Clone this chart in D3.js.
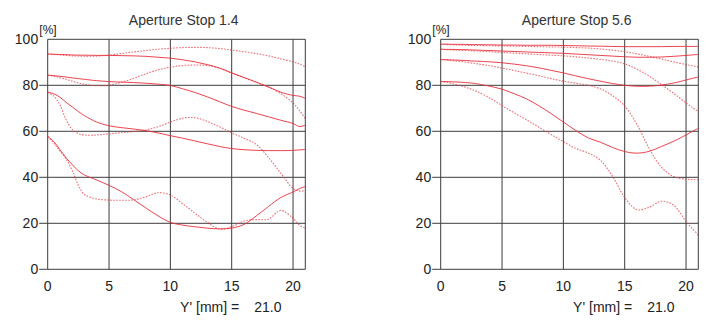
<!DOCTYPE html>
<html>
<head>
<meta charset="utf-8">
<script src="https://cdn.jsdelivr.net/npm/d3@7"></script>
<style>
  html, body { margin: 0; padding: 0; background: #ffffff; }
  svg { display: block; }
  text { font-family: "Liberation Sans", Arial, sans-serif; fill: #222; }
</style>
</head>
<body>
<svg id="chart" width="720" height="336"></svg>
<script>
// ---------- data ----------
const imageHeights = [0,0.5,1,1.5,2,2.5,3,4,5,6,7,8,9,10,11,12,13,14,15,16,17,18,19,20,20.5,21];

const xTicks = [0, 5, 10, 15, 20];
const yTicks = [0, 20, 40, 60, 80, 100];
const titles = ["Aperture Stop 1.4", "Aperture Stop 5.6"];
const imageHeightLabel = "Y' [mm] =";
const imageHeightValue = "21.0";
const unitLabel = "[%]";

// Aperture 1.4 — solid (sagittal) and dashed (tangential), 4 frequencies each
const f14_solid1 = [93.6,93.5,93.4,93.3,93.2,93.1,93.1,93.0,93.0,92.9,92.8,92.6,92.2,91.8,91.1,90.2,89.0,87.5,85.4,83.4,81.4,79.3,77.0,75.6,75.3,74.3];
const f14_dash1  = [93.6,93.4,93.2,93.0,92.8,92.7,92.6,92.7,93.1,93.8,94.5,95.1,95.7,96.1,96.4,96.5,96.4,96.0,95.3,94.6,93.8,92.8,91.5,90.2,89.3,88.0];
const f14_solid2 = [84.4,84.2,83.9,83.6,83.2,82.9,82.6,82.0,81.6,81.4,81.2,80.9,80.5,79.9,78.5,76.9,75.0,72.9,70.8,69.2,67.8,66.3,64.8,63.4,62.1,62.6];
const f14_dash2  = [84.4,84.0,83.3,82.6,81.8,81.0,80.4,79.8,80.0,81.3,83.0,85.0,86.7,87.9,88.6,88.8,88.6,87.5,85.3,83.3,81.3,79.2,76.4,72.3,69.2,65.6];
const f14_solid3 = [77.0,76.3,74.8,72.6,70.6,68.6,66.8,64.0,62.4,61.6,61.0,60.3,59.3,58.1,57.0,55.8,54.6,53.4,52.5,52.0,51.7,51.6,51.6,51.7,51.9,52.1];
const f14_dash3  = [77.0,75.3,71.5,65.0,60.8,59.0,58.4,58.4,58.9,59.4,59.9,60.6,62.0,64.0,65.7,65.9,64.3,62.0,59.3,57.0,54.3,48.6,41.8,35.2,34.0,34.3];
const f14_solid4 = [57.8,55.5,52.0,48.5,45.5,42.8,41.0,38.8,36.5,33.8,30.3,26.7,23.2,20.4,19.2,18.5,17.9,17.6,17.9,19.5,23.2,27.3,31.2,33.6,35.0,36.0];
const f14_dash4  = [57.8,54.8,51.5,48.0,43.0,36.5,32.5,30.6,30.1,30.0,30.2,31.5,33.3,32.3,28.5,24.4,20.5,17.5,18.5,21.0,21.6,21.8,25.6,22.2,19.3,17.8];

// Aperture 5.6
const f56_solid1 = [97.9,97.9,97.8,97.8,97.8,97.7,97.7,97.6,97.5,97.5,97.4,97.4,97.4,97.3,97.2,97.1,97.0,96.9,96.8,96.8,96.8,96.8,96.9,96.9,96.9,96.9];
const f56_dash1  = [97.8,97.7,97.6,97.5,97.4,97.3,97.3,97.2,97.1,97.0,96.9,96.8,96.7,96.6,96.4,96.2,95.8,95.3,94.6,93.7,92.6,91.4,90.2,89.0,88.5,88.0];
const f56_solid2 = [95.7,95.6,95.6,95.5,95.5,95.4,95.3,95.1,94.9,94.7,94.5,94.3,94.1,93.9,93.6,93.3,93.0,92.7,92.4,92.2,92.2,92.3,92.6,93.0,93.2,93.4];
const f56_dash2  = [95.7,95.5,95.4,95.3,95.1,95.0,94.9,94.6,94.3,94.0,93.7,93.4,93.1,92.8,92.4,91.9,91.3,90.6,89.3,87.0,84.0,80.3,76.5,72.3,70.4,68.6];
const f56_solid3 = [91.2,91.1,91.0,90.9,90.8,90.6,90.5,90.2,89.8,89.2,88.5,87.6,86.5,85.4,84.1,82.9,81.8,80.8,80.0,79.6,79.6,80.1,81.0,82.3,83.0,83.6];
const f56_dash3  = [91.2,91.0,90.7,90.4,90.1,89.7,89.3,88.5,87.5,86.4,85.3,84.2,82.9,81.8,80.9,80.0,78.5,75.5,71.0,63.0,52.5,44.3,40.3,39.2,39.0,38.9];
const f56_solid4 = [81.6,81.6,81.5,81.4,81.2,81.0,80.6,79.6,78.3,76.3,74.1,71.1,67.7,64.0,60.4,57.2,55.3,53.0,51.2,50.5,51.3,53.4,55.7,58.4,59.9,61.3];
const f56_dash4  = [81.6,81.3,80.7,80.0,79.2,78.3,77.2,74.5,71.2,68.0,65.0,61.8,58.6,55.5,52.6,50.6,47.5,40.5,31.2,25.9,27.0,29.6,27.8,20.8,17.8,14.9];

const panels = [
  { title: titles[0], left: 47.7,
    solid: [f14_solid1, f14_solid2, f14_solid3, f14_solid4],
    dash:  [f14_dash1, f14_dash2, f14_dash3, f14_dash4] },
  { title: titles[1], left: 440.7,
    solid: [f56_solid1, f56_solid2, f56_solid3, f56_solid4],
    dash:  [f56_dash1, f56_dash2, f56_dash3, f56_dash4] }
];

// ---------- drawing ----------
const svg = d3.select("#chart");
const plotW = 257.6, plotTop = 39.3, plotBottom = 269.3;
const gridColor = "#3c3c3c";
const lineColor = "#e8303c";

panels.forEach(p => {
  const x = d3.scaleLinear().domain([0, 21]).range([p.left, p.left + plotW]);
  const y = d3.scaleLinear().domain([0, 100]).range([plotBottom, plotTop]);
  const g = svg.append("g");

  // horizontal gridlines
  g.selectAll("line.h").data(yTicks).join("line").attr("class", "h")
    .attr("x1", x(0)).attr("x2", x(21))
    .attr("y1", d => y(d)).attr("y2", d => y(d))
    .attr("stroke", gridColor).attr("stroke-width", 1);
  // left ticks
  g.selectAll("line.t").data(yTicks.filter(d => d < 100)).join("line").attr("class", "t")
    .attr("x1", x(0) - 8.5).attr("x2", x(0))
    .attr("y1", d => y(d)).attr("y2", d => y(d))
    .attr("stroke", gridColor).attr("stroke-width", 1);
  // vertical gridlines + frame
  g.selectAll("line.v").data(xTicks.concat([21])).join("line").attr("class", "v")
    .attr("x1", d => x(d)).attr("x2", d => x(d))
    .attr("y1", y(0)).attr("y2", y(100))
    .attr("stroke", gridColor).attr("stroke-width", 1);

  // y labels
  g.selectAll("text.yl").data(yTicks).join("text").attr("class", "yl")
    .attr("x", x(0) - 9.5).attr("y", d => y(d) + 5)
    .attr("text-anchor", "end").attr("font-size", 14)
    .text(d => d);
  // x labels
  g.selectAll("text.xl").data(xTicks).join("text").attr("class", "xl")
    .attr("x", d => x(d)).attr("y", 290.5)
    .attr("text-anchor", "middle").attr("font-size", 14)
    .text(d => d);

  g.append("text").attr("x", x(0) - 8.4).attr("y", 33.5)
    .attr("font-size", 12).text(unitLabel);
  g.append("text").attr("x", p.left + 136).attr("y", 25)
    .attr("text-anchor", "middle").attr("font-size", 14).style("fill", "#333")
    .text(p.title);
  g.append("text").attr("x", p.left + 132.4).attr("y", 311.5)
    .attr("font-size", 14).text(imageHeightLabel);
  g.append("text").attr("x", p.left + 206.6).attr("y", 311.5)
    .attr("font-size", 14).text(imageHeightValue);

  const line = d3.line()
    .x((d, i) => x(imageHeights[i]))
    .y(d => y(d))
    .curve(d3.curveCatmullRom.alpha(0.5));

  const curves = g.append("g");
  p.dash.forEach(s => {
    curves.append("path").attr("d", line(s))
      .attr("fill", "none").attr("stroke", lineColor)
      .attr("stroke-width", 1.1).attr("stroke-opacity", 0.7)
      .attr("stroke-dasharray", "1.6,1.4");
  });
  p.solid.forEach(s => {
    curves.append("path").attr("d", line(s))
      .attr("fill", "none").attr("stroke", lineColor)
      .attr("stroke-width", 1).attr("stroke-opacity", 0.9);
  });
});
</script>
</body>
</html>
